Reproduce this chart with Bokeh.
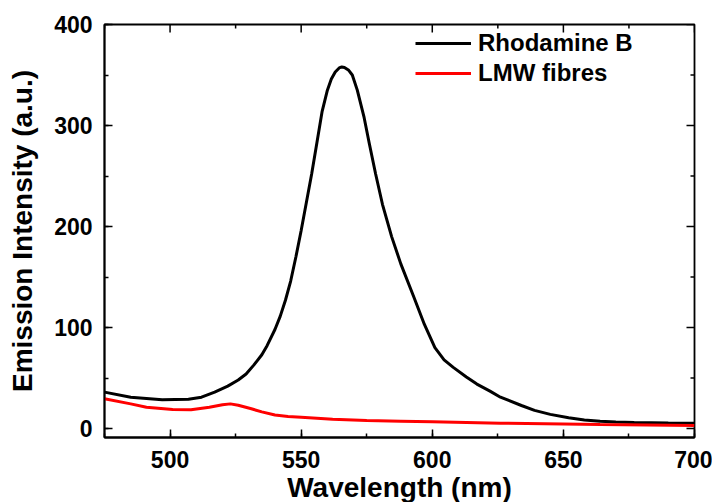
import math
from bokeh.plotting import figure
from bokeh.models import LinearAxis, Range1d, Legend, LegendItem, SingleIntervalTicker
from bokeh.embed import file_html
from bokeh.resources import INLINE

# Rhodamine B emission spectrum
rb_wl = [475, 485, 497, 507, 512, 517, 522, 526, 529, 532, 535, 537, 540, 542, 544,
         546, 548, 550, 552, 554, 556, 558, 560, 561.5, 563, 564.5, 565.5, 566.5,
         568, 569.5, 571.4, 574, 576, 578.4, 581, 584.5, 588, 593, 597, 601, 604.5,
         608, 613, 617, 622, 626, 634, 639, 645, 652, 658, 664, 670, 677, 690, 700]
rb_int = [36, 31, 28.4, 29, 31, 36, 42, 48, 54, 63, 73, 82, 98, 111, 127,
          146, 170, 196, 224, 252, 283, 314, 335, 346, 353, 357, 358, 357.5,
          355, 350, 335, 308, 282, 252, 222, 190, 163, 130, 103, 80, 68,
          60.5, 51, 44, 37, 31, 22.8, 18, 14, 10.6, 8.5, 7.2, 6.5, 5.9, 5.4, 5.2]

# LMW fibres emission spectrum
lmw_wl = [475, 485, 491, 501, 508, 515, 520, 523, 526, 531, 535, 540, 545, 550,
          562, 575, 588, 600, 626, 664, 700]
lmw_int = [29.4, 24.4, 21, 18.8, 18.5, 21, 23.5, 24.4, 23, 19.5, 16.5, 13.3, 12, 11.2,
           9.2, 7.9, 7.2, 6.6, 5.2, 4, 3]

series_names = ["Rhodamine B", "LMW fibres"]
x_title = "Wavelength (nm)"
y_title = "Emission Intensity (a.u.)"

# axis limits and tick steps
x_min, x_max, x_step = 475, 700, 50
y_min, y_max, y_step = -8.9, 400, 100

FONT = "Liberation Sans"
FRAME_W, FRAME_H = 590, 413

p = figure(frame_width=FRAME_W, frame_height=FRAME_H, output_backend="svg",
           toolbar_location=None,
           x_range=Range1d(x_min, x_max), y_range=Range1d(y_min, y_max),
           min_border_left=104, min_border_right=18, min_border_top=24,
           min_border_bottom=64, x_axis_location=None, y_axis_location=None)
p.grid.visible = False
p.outline_line_color = "black"
p.outline_line_width = 1.8
p.background_fill_color = "white"
p.border_fill_color = "white"

r1 = p.line(rb_wl, rb_int, line_color="black", line_width=3)
r2 = p.line(lmw_wl, lmw_int, line_color="#ff0000", line_width=3)


def style(ax):
    ax.axis_line_width = 1.8
    ax.axis_line_color = "black"
    ax.major_tick_in = 8
    ax.major_tick_out = 0
    ax.minor_tick_in = 4
    ax.minor_tick_out = 0
    ax.major_tick_line_width = 1.5
    ax.minor_tick_line_width = 1.5
    ax.major_tick_line_color = "black"
    ax.minor_tick_line_color = "black"
    ax.major_label_text_font = FONT
    ax.major_label_text_font_style = "bold"
    ax.major_label_text_font_size = "23px"
    ax.major_label_text_color = "black"
    ax.axis_label_text_font = FONT
    ax.axis_label_text_font_style = "bold"
    ax.axis_label_text_font_size = "28px"
    ax.axis_label_text_color = "black"


xb = LinearAxis(ticker=SingleIntervalTicker(interval=x_step, num_minor_ticks=2),
                axis_label=x_title)
style(xb)
xb.major_label_standoff = 13
xb.axis_label_standoff = 1
p.add_layout(xb, "below")

yl = LinearAxis(ticker=SingleIntervalTicker(interval=y_step, num_minor_ticks=2),
                axis_label=y_title)
style(yl)
yl.major_label_standoff = 12
yl.axis_label_standoff = 13
p.add_layout(yl, "left")

# mirrored inward ticks on the top and right edges of the frame
x_major = list(range(500, x_max + 1, x_step))
x_minor = [v - x_step / 2 for v in x_major]
y_major = list(range(0, y_max + 1, y_step))
y_minor = [v + y_step / 2 for v in y_major[:-1]]

p.ray(x=x_major, y=y_max, length=8, length_units="screen", angle=-math.pi / 2,
      line_color="black", line_width=1.5)
p.ray(x=x_minor, y=y_max, length=4, length_units="screen", angle=-math.pi / 2,
      line_color="black", line_width=1.5)
p.ray(x=x_max, y=y_major, length=8, length_units="screen", angle=math.pi,
      line_color="black", line_width=1.5)
p.ray(x=x_max, y=y_minor, length=4, length_units="screen", angle=math.pi,
      line_color="black", line_width=1.5)

legend = Legend(items=[LegendItem(label=series_names[0], renderers=[r1]),
                       LegendItem(label=series_names[1], renderers=[r2])],
                location=(311, 349), padding=0, spacing=0, margin=0,
                glyph_width=56, glyph_height=30, label_height=30,
                label_standoff=7, label_text_font=FONT,
                label_text_font_style="bold", label_text_font_size="24px",
                label_text_color="black", border_line_color=None,
                background_fill_alpha=0)
p.add_layout(legend, "center")

open("out.html", "w").write(file_html(p, INLINE))
